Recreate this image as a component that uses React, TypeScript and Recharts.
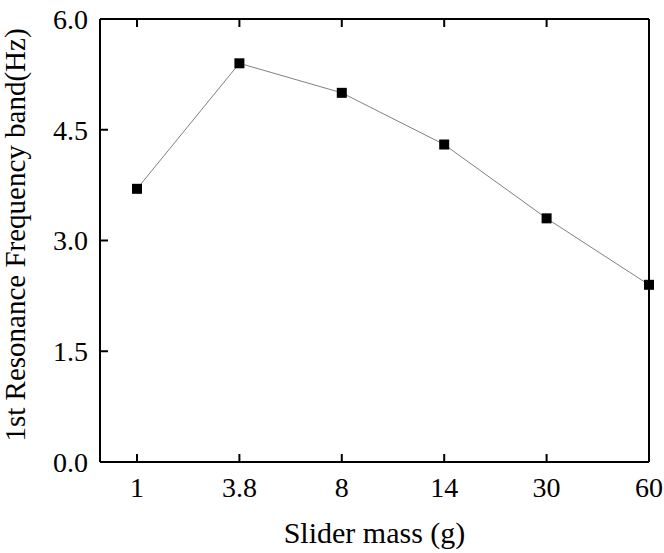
import { LineChart, Line, XAxis, YAxis } from "recharts";

// slider mass categories (g) and measured first band frequency (Hz)
const masses = ["1", "3.8", "8", "14", "30", "60"];
const frequency = [3.7, 5.4, 5.0, 4.3, 3.3, 2.4];
const yTicks = [0, 1.5, 3.0, 4.5, 6.0];

const data = masses.map((m, i) => ({ mass: m, freq: frequency[i] }));

const FONT = "'Liberation Serif', 'Times New Roman', serif";

const SquareDot = (props: any) => {
  const { cx, cy, index } = props;
  if (cx == null || cy == null) return <g key={index} />;
  return <rect key={index} x={cx - 5} y={cy - 5} width={10} height={10} fill="#000" />;
};

const App = () => {
  return (
    <div style={{ position: "absolute", left: 0, top: 0, background: "#fff" }}>
      <LineChart
        width={664}
        height={553}
        data={data}
        margin={{ top: 9, right: 0, left: 0, bottom: 31 }}
      >
        <XAxis
          dataKey="mass"
          height={60}
          padding={{ left: 37, right: 0 }}
          axisLine={{ stroke: "#000", strokeWidth: 2 }}
          tickLine={{ stroke: "#000", strokeWidth: 2 }}
          tickSize={-8}
          tickMargin={23}
          tick={{ fill: "#000", fontSize: 28, fontFamily: FONT }}
          label={{
            content: (p: any) => (
              <text
                x={p.viewBox.x + p.viewBox.width / 2}
                y={543}
                textAnchor="middle"
                fontSize={30}
                fontFamily={FONT}
                fill="#000"
              >
                Slider mass (g)
              </text>
            ),
          }}
        />
        <XAxis
          xAxisId="top"
          dataKey="mass"
          orientation="top"
          height={10}
          padding={{ left: 37, right: 0 }}
          axisLine={{ stroke: "#000", strokeWidth: 2 }}
          tickLine={{ stroke: "#000", strokeWidth: 2 }}
          tickSize={-8}
          tick={() => <g />}
        />
        <YAxis
          width={100}
          domain={[0, 6]}
          ticks={yTicks}
          interval={0}
          tickFormatter={(v: number) => v.toFixed(1)}
          axisLine={{ stroke: "#000", strokeWidth: 2 }}
          tickLine={{ stroke: "#000", strokeWidth: 2 }}
          tickSize={-8}
          tickMargin={20}
          tick={{ fill: "#000", fontSize: 28, fontFamily: FONT }}
          label={{
            content: () => {
              const cy = 235;
              return (
                <text
                  x={25}
                  y={cy}
                  transform={`rotate(-90, 25, ${cy})`}
                  textAnchor="middle"
                  fontSize={29}
                  fontFamily={FONT}
                  fill="#000"
                >
                  1st Resonance Frequency band(Hz)
                </text>
              );
            },
          }}
        />
        <YAxis
          yAxisId="right"
          orientation="right"
          width={15}
          domain={[0, 6]}
          ticks={yTicks}
          interval={0}
          axisLine={{ stroke: "#000", strokeWidth: 2 }}
          tickLine={{ stroke: "#000", strokeWidth: 2 }}
          tickSize={-8}
          tick={() => <g />}
        />
        <Line
          dataKey="freq"
          stroke="#808080"
          strokeWidth={1}
          dot={SquareDot}
          activeDot={false}
          isAnimationActive={false}
        />
      </LineChart>
    </div>
  );
};

export default App;
